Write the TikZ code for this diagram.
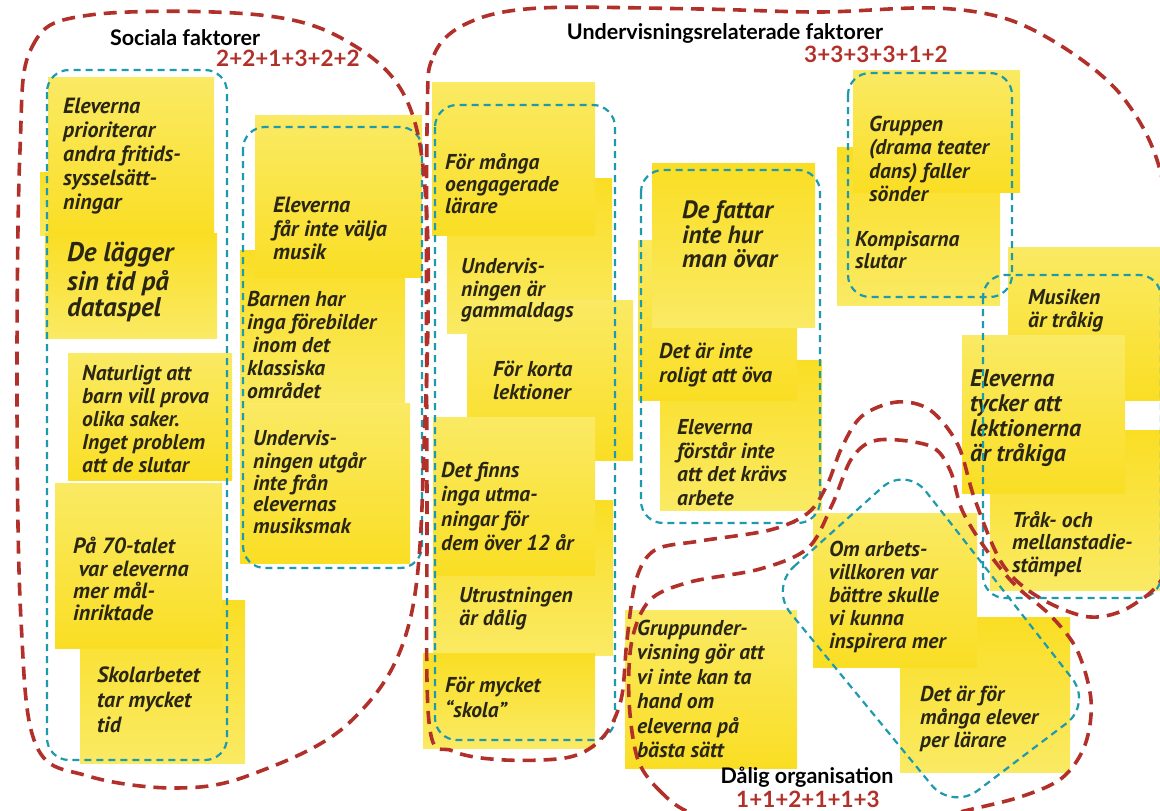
\documentclass[tikz,border=0pt]{standalone}
\usepackage{fontspec}
\newfontfamily\handfont{PT Sans}
\newfontfamily\headfont{Lato}
\definecolor{loopred}{RGB}{178,48,42}
\definecolor{loopteal}{RGB}{30,154,175}
\definecolor{memolight}{RGB}{250,234,100}
\definecolor{memodeep}{RGB}{250,222,36}
\definecolor{ink}{RGB}{42,38,20}
\newcommand\hw[2]{\handfont\bfseries\itshape\fontsize{#1}{#2}\selectfont}

\begin{document}
\begin{tikzpicture}[x=1pt,y=-1pt,
  memo/.style={top color=memolight,bottom color=memodeep,draw=none},
  memob/.style={top color=memodeep,bottom color=memolight,draw=none},
  note/.style={anchor=north west,inner sep=0pt,align=left,text=ink},
  redloop/.style={draw=loopred,line width=3.6pt,dash pattern=on 13pt off 8pt},
  tealloop/.style={draw=loopteal,line width=2.2pt,dash pattern=on 7pt off 5pt,rounded corners=22pt},
  heading/.style={font=\headfont\bfseries\fontsize{21.5}{24}\selectfont,text=black,inner sep=0pt},
  tally/.style={font=\headfont\bfseries\fontsize{22.5}{25}\selectfont,text=loopred,inner sep=0pt}]

\path[use as bounding box] (0,0) rectangle (1160,811);
\fill[white] (0,0) rectangle (1160,811);

\begin{scope}
\clip (0,0) rectangle (1160,811);

% ---- sticky notes, back to front ----
% social factors, first column
\fill[memob] (40,172) rectangle (60,235);
\fill[memo]  (48,77) rectangle (214,235);
\fill[memob] (45,233) rectangle (217,338);
\fill[memo]  (68,353) rectangle (232,480);
\fill[memob] (80,600) rectangle (245,763);
\fill[memo]  (55,483) rectangle (222,648);
% social factors, second column
\fill[memob] (240,250) rectangle (405,413);
\fill[memo]  (255,115) rectangle (422,277);
\fill[memo]  (240,403) rectangle (410,563);
% teaching, first column
\fill[memob] (447,178) rectangle (612,333);
\fill[memo]  (432,82) rectangle (595,235);
\fill[memo]  (467,300) rectangle (633,460);
\fill[memob] (433,500) rectangle (613,655);
\fill[memo]  (433,417) rectangle (595,575);
\fill[memob] (423,653) rectangle (595,748);
% teaching, second column
\fill[memob] (660,360) rectangle (822,510);
\fill[memo]  (638,240) rectangle (797,400);
\fill[memob] (652,163) rectangle (815,327);
% right side
\fill[memob] (837,147) rectangle (1000,305);
\fill[memo]  (853,70) rectangle (1020,192);
\fill[memo]  (1008,247) rectangle (1160,400);
\fill[memob] (990,430) rectangle (1160,590);
\fill[memo]  (962,335) rectangle (1125,493);
% organisation
\fill[memo]  (625,610) rectangle (797,768);
\fill[memob] (900,617) rectangle (1070,772);
\fill[memo]  (813,513) rectangle (977,667);

% ---- handwritten notes ----
\node[note,font={\hw{22}{24}}] (tA) at (63,96) {\strut Eleverna\\prioriterar\\andra fritids-\\sysselsätt-\\ningar};
\node[note,font={\hw{27}{26}}] (tB) at (67,242) {\strut De lägger\\sin tid på\\dataspel};
\node[note,font={\hw{21.5}{23}}] (tC) at (82,364) {\strut Naturligt att\\barn vill prova\\olika saker.\\Inget problem\\att de slutar};
\node[note,font={\hw{22}{22}}] (tD) at (73,537) {\strut På 70-talet\\\ var eleverna\\mer mål-\\inriktade};
\node[note,font={\hw{22}{25}}] (tE) at (97,665) {\strut Skolarbetet\\tar mycket\\tid};
\node[note,font={\hw{22}{23}}] (tF) at (273,196) {\strut Eleverna\\får inte välja\\musik};
\node[note,font={\hw{21.5}{23}}] (tG) at (247,290) {\strut Barnen har\\inga förebilder\\\ inom det\\klassiska\\området};
\node[note,font={\hw{21.5}{21.5}}] (tH) at (253,430) {\strut Undervis-\\ningen utgår\\inte från\\elevernas\\musiksmak};
\node[note,font={\hw{21.5}{21.5}}] (tI) at (445,153) {\strut För många\\oengagerade\\lärare};
\node[note,font={\hw{21.5}{21}}] (tJ) at (461,258) {\strut Undervis-\\ningen är\\gammaldags};
\node[note,font={\hw{21.5}{23}}] (tK) at (493,360) {\strut För korta\\lektioner};
\node[note,font={\hw{21.5}{24.5}}] (tL) at (441,460) {\strut Det finns\\inga utma-\\ningar för\\dem över 12 år};
\node[note,font={\hw{21.5}{23}}] (tM) at (459,586) {\strut Utrustningen\\är dålig};
\node[note,font={\hw{21.5}{25}}] (tN) at (445,675) {\strut För mycket\\“skola”};
\node[note,font={\hw{25}{23.5}}] (tO) at (682,200) {\strut De fattar\\inte hur\\man övar};
\node[note,font={\hw{21.5}{24}}] (tP) at (659,341) {\strut Det är inte\\roligt att öva};
\node[note,font={\hw{21.5}{23.5}}] (tQ) at (677,418) {\strut Eleverna\\förstår inte\\att det krävs\\arbete};
\node[note,font={\hw{21.5}{23.3}}] (tR) at (869,115) {\strut Gruppen\\(drama teater\\dans) faller\\sönder};
\node[note,font={\hw{21.5}{22}}] (tS) at (855,231) {\strut Kompisarna\\slutar};
\node[note,font={\hw{21.5}{23}}] (tT) at (1028,288) {\strut Musiken\\är tråkig};
\node[note,font={\hw{24}{25}}] (tU) at (970,369) {\strut Eleverna\\tycker att\\lektionerna\\är tråkiga};
\node[note,font={\hw{21.5}{22.5}}] (tV) at (1012,511) {\strut Tråk- och\\mellanstadie-\\stämpel};
\node[note,font={\hw{21.5}{23}}] (tW) at (829,540) {\strut Om arbets-\\villkoren var\\bättre skulle\\vi kunna\\inspirera mer};
\node[note,font={\hw{21.5}{23}}] (tX) at (920,685) {\strut Det är för\\många elever\\per lärare};
\node[note,font={\hw{21.5}{24.5}}] (tY) at (637,618) {\strut Gruppunder-\\visning gör att\\vi inte kan ta\\hand om\\eleverna på\\bästa sätt};

% ---- teal clusters ----
\draw[tealloop] (47,70) rectangle (227,760);
\draw[tealloop] (243,127) rectangle (422,568);
\draw[tealloop] (435,105) rectangle (615,740);
\draw[tealloop] (641,170) rectangle (820,523);
\draw[tealloop] (848,73) rectangle (1012,297);
\draw[tealloop] (983,275) rectangle (1161,598);
\draw[tealloop,rounded corners=32pt] (770,588) -- (906,466) -- (1092,704) -- (952,810) -- cycle;

% ---- red category outlines ----
% social factors
\draw[redloop] plot[smooth cycle,tension=0.6] coordinates {
  (20,150) (32,47) (90,15) (260,15) (350,43) (408,103) (427,220) (425,420)
  (410,620) (350,722) (250,775) (175,788) (88,776) (36,745) (21,620) (17,400)};
% teaching related factors
\draw[redloop] plot[smooth cycle,tension=0.55] coordinates {
  (427,130) (434,55) (470,22) (540,8) (700,9) (820,12) (935,8) (1010,20)
  (1075,55) (1125,100) (1160,170) (1178,300) (1180,450) (1168,565) (1133,605)
  (1090,617) (1040,598) (1003,565) (975,500) (958,445) (930,410) (897,402)
  (862,416) (842,447) (827,485) (808,513) (770,530) (700,541) (655,550)
  (636,580) (627,640) (621,700) (603,737) (570,757) (505,760) (453,751)
  (429,722) (427,500)};
% poor organisation
\draw[redloop] plot[smooth cycle,tension=0.55] coordinates {
  (693,814) (662,793) (638,760) (629,700) (632,640) (650,600) (690,582)
  (760,569) (808,548) (832,505) (852,458) (878,440) (930,446) (950,470)
  (962,510) (985,548) (1015,585) (1050,615) (1077,650) (1091,700)
  (1085,745) (1062,778) (1020,797) (960,812) (880,832) (760,832)};
\end{scope}

% ---- headings and tallies ----
\node[heading] (hsoc) at (185,38) {Sociala faktorer};
\node[tally] (nsoc) at (288,58) {2+2+1+3+2+2};
\node[heading] (hund) at (725,33) {Undervisningsrelaterade faktorer};
\node[tally] (nund) at (876,54) {3+3+3+3+1+2};
\node[heading] (horg) at (807,777) {Dålig organisation};
\node[tally] (norg) at (808,799) {1+1+2+1+1+3};
\end{tikzpicture}
\end{document}
